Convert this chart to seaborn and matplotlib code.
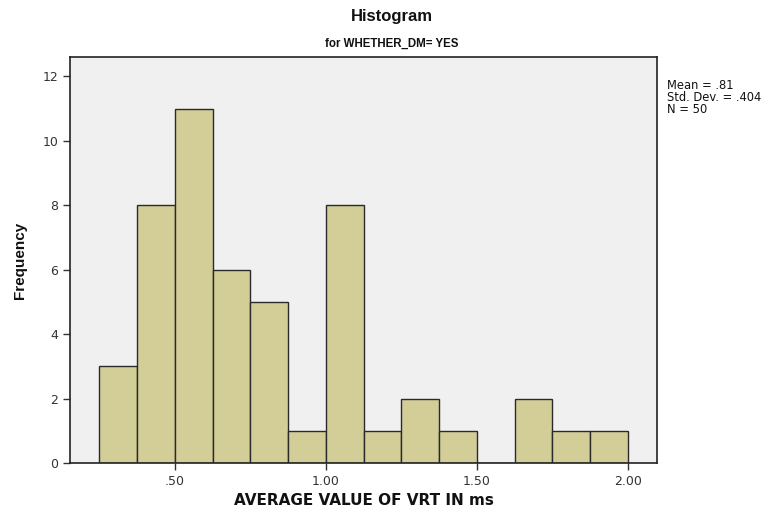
import matplotlib
matplotlib.use("Agg")
import matplotlib.pyplot as plt
import seaborn as sns
import numpy as np
import pandas as pd

# Data
bin_start = 0.25
bin_width = 0.125
counts = [3, 8, 11, 6, 5, 1, 8, 1, 2, 1, 0, 2, 1, 1]
x_ticks = [0.5, 1.0, 1.5, 2.0]
x_ticklabels = [".50", "1.00", "1.50", "2.00"]
y_ticks = [0, 2, 4, 6, 8, 10, 12]
stats_text = "Mean = .81\nStd. Dev. = .404\nN = 50"

edges = [bin_start + i * bin_width for i in range(len(counts) + 1)]
centers = [(edges[i] + edges[i + 1]) / 2 for i in range(len(counts))]
df = pd.DataFrame({"value": centers, "count": counts})

sns.set_theme(style="white")
plt.rcParams['font.family'] = ['Liberation Sans', 'DejaVu Sans']

fig = plt.figure(figsize=(7.79, 5.15), dpi=100)
ax = fig.add_axes([70/779, 1 - 463/515, (657-70)/779, (463-57)/515])
ax.set_facecolor("#F0F0F0")

sns.histplot(data=df, x="value", weights="count", bins=edges, ax=ax,
             color="#D3CE98", alpha=1.0, edgecolor="#2a2a2a", linewidth=1.0)

ax.set_xlim(0.153, 2.096)
ax.set_ylim(0, 12.6)
ax.set_xticks(x_ticks)
ax.set_xticklabels(x_ticklabels)
ax.set_yticks(y_ticks)
ax.tick_params(axis="both", direction="out", length=5, width=1, color="#333333",
               labelsize=9, labelcolor="#333333", bottom=True, left=True)
for lab in ax.get_xticklabels() + ax.get_yticklabels():
    lab.set_family(['DejaVu Sans'])
for s in ax.spines.values():
    s.set_color("#222222")
    s.set_linewidth(1.2)

ax.set_xlabel("AVERAGE VALUE OF VRT IN ms", fontsize=11, fontweight="bold", labelpad=4,
              family=['DejaVu Sans'], color="#111111")
ax.set_ylabel("Frequency", fontsize=11, fontweight="bold", labelpad=11, color="#111111")

fig.text(0.503, 1 - 17/515, "Histogram", ha="center", va="center",
         fontsize=12, fontweight="bold", color="#111111")
fig.text(0.503, 1 - 44/515, "for WHETHER_DM= YES", ha="center", va="center",
         fontsize=8.3, fontweight="bold", color="#111111")
fig.text(667/779, 1 - 79/515, stats_text, ha="left", va="top",
         fontsize=8.3, linespacing=0.9, color="#111111", family=['DejaVu Sans'])

fig.savefig("out.png", dpi=100)
